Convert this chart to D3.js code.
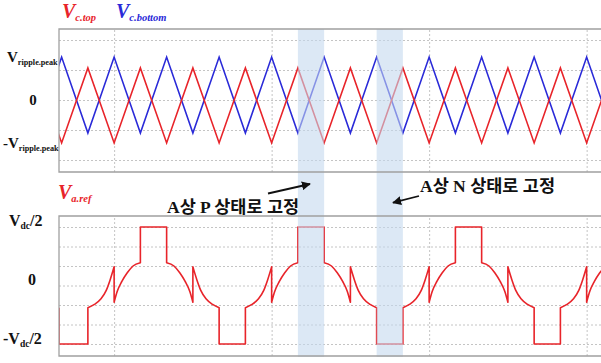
<!DOCTYPE html>
<html><head><meta charset="utf-8">
<script src="https://cdn.jsdelivr.net/npm/d3@7"></script>
<style>body{margin:0;background:#fff}svg{display:block}</style>
</head><body>
<script>
// ---------- data ----------
// time axis in carrier half-periods
const triT = [-1,0,1,2,3,4,5,6,7,8,9,10,11,12,13,14,15,16,17,18,19,20,21];
const vcTop = [1.07,-1.43,1.07,-1.43,1.07,-1.43,1.07,-1.43,1.07,-1.43,1.07,-1.43,1.07,-1.43,1.07,-1.43,1.07,-1.43,1.07,-1.43,1.07,-1.43,1.07];
const vcBottom = [-1.1,1.43,-1.1,1.43,-1.1,1.43,-1.1,1.43,-1.1,1.43,-1.1,1.43,-1.1,1.43,-1.1,1.43,-1.1,1.43,-1.1,1.43,-1.1,1.43,-1.1];

const vrefT = [-0.1,-0.1,1,1,1.25,1.5,1.7,1.85,2,2,2.12,2.3,2.5,2.72,3,3,4,4,4.28,4.5,4.7,4.88,5,5,5.15,5.3,5.5,5.75,6,
  6,7,7,7.25,7.5,7.7,7.85,8,8,8.12,8.3,8.5,8.72,9,9,10,10,10.28,10.5,10.7,10.88,11,11,11.15,11.3,11.5,11.75,12,
  12,13,13,13.25,13.5,13.7,13.85,14,14,14.12,14.3,14.5,14.72,15,15,16,16,16.28,16.5,16.7,16.88,17,17,17.15,17.3,17.5,17.75,18,
  18,19,19,19.25,19.5,19.7,19.85,20,20,20.12,20.3,20.5,20.72];
const vrefV = [-1.14,-3,-3,-1.14,-0.97,-0.68,-0.25,0.3,0.96,-0.86,-0.3,0.22,0.65,1.0,1.17,3,3,1.17,1.0,0.65,0.22,-0.3,-0.86,0.96,0.3,-0.25,-0.68,-0.97,-1.14,
  -3,-3,-1.14,-0.97,-0.68,-0.25,0.3,0.96,-0.86,-0.3,0.22,0.65,1.0,1.17,3,3,1.17,1.0,0.65,0.22,-0.3,-0.86,0.96,0.3,-0.25,-0.68,-0.97,-1.14,
  -3,-3,-1.14,-0.97,-0.68,-0.25,0.3,0.96,-0.86,-0.3,0.22,0.65,1.0,1.17,3,3,1.17,1.0,0.65,0.22,-0.3,-0.86,0.96,0.3,-0.25,-0.68,-0.97,-1.14,
  -3,-3,-1.14,-0.97,-0.68,-0.25,0.3,0.96,-0.86,-0.3,0.22,0.65,1.0];

const gridT = [2,8,14,20];
const topGridV = [-2,-1,0,1,2];
const botGridV = [-3,-2,-1,0,1,2,3];
const bandStart = [9,12];
const bandEnd = [10,13];

const topTickV = [1.43,0,-1.43];
const topTickMain = ["V","0","-V"];
const topTickSub = ["ripple.peak","",  "ripple.peak"];
const botTickV = [3,0,-3];
const botTickMain = ["V","0","-V"];
const botTickSub = ["dc","","dc"];
const botTickTail = ["/2","","/2"];

const annoText = ["A상 P 상태로 고정","A상 N 상태로 고정"];

// ---------- layout ----------
const W=601,H=363;
const svg = d3.select("body").append("svg").attr("width",W).attr("height",H);
const x = d3.scaleLinear().domain([-0.1,20.6]).range([59,602.4]);
const yT = d3.scaleLinear().domain([-2.4,2.3667]).range([172,29]);
const yB = d3.scaleLinear().domain([-3.615,3.564]).range([356,216]);
const RED="#e8242a", BLUE="#2a2ad8", GRID="#c4c4c4", BORDER="#a0a0a0";

const defs = svg.append("defs");
defs.append("clipPath").attr("id","cT").append("rect")
  .attr("x",x.range()[0]).attr("y",yT.range()[1]).attr("width",x.range()[1]-x.range()[0]).attr("height",yT.range()[0]-yT.range()[1]);
defs.append("clipPath").attr("id","cB").append("rect")
  .attr("x",x.range()[0]).attr("y",yB.range()[1]).attr("width",x.range()[1]-x.range()[0]).attr("height",yB.range()[0]-yB.range()[1]);
defs.append("marker").attr("id","ah").attr("viewBox","0 0 10 10").attr("refX",9).attr("refY",5)
  .attr("markerWidth",5).attr("markerHeight",5).attr("orient","auto").attr("markerUnits","strokeWidth")
  .append("path").attr("d","M0,0L10,5L0,10z").attr("fill","#111");

function grid(yScale, vals){
  const g = svg.append("g");
  const w = x.range()[1]-x.range()[0];
  const h = yScale.range()[0]-yScale.range()[1];
  g.append("g").attr("transform",`translate(${x.range()[0]},0)`)
    .call(d3.axisLeft(yScale).tickValues(vals).tickSize(-w).tickFormat(""))
    .call(s=>s.select(".domain").remove())
    .call(s=>s.selectAll("line").attr("stroke",GRID).attr("stroke-dasharray","2,2"));
  g.append("g").attr("transform",`translate(0,${yScale.range()[0]})`)
    .call(d3.axisBottom(x).tickValues(gridT).tickSize(-h).tickFormat(""))
    .call(s=>s.select(".domain").remove())
    .call(s=>s.selectAll("line").attr("stroke",GRID).attr("stroke-dasharray","2,2"));
}
grid(yT, topGridV);
grid(yB, botGridV);

// top triangles
const lt = d3.line().x(d=>x(d[0])).y(d=>yT(d[1]));
const gT = svg.append("g").attr("clip-path","url(#cT)");
gT.append("path").datum(triT.map((t,i)=>[t,vcBottom[i]])).attr("d",lt)
  .attr("fill","none").attr("stroke",BLUE).attr("stroke-width",1.6);
gT.append("path").datum(triT.map((t,i)=>[t,vcTop[i]])).attr("d",lt)
  .attr("fill","none").attr("stroke",RED).attr("stroke-width",1.6);

// bottom reference waveform: smooth runs joined by vertical jumps
const pts = vrefT.map((t,i)=>[t,vrefV[i]]);
const runs=[]; let cur=[pts[0]];
for(let i=1;i<pts.length;i++){
  if(pts[i][0]===pts[i-1][0]){ runs.push(cur); cur=[pts[i]]; } else cur.push(pts[i]);
}
runs.push(cur);
const lb = d3.line().x(d=>x(d[0])).y(d=>yB(d[1])).curve(d3.curveMonotoneX);
let dStr = runs.map((r,i)=>{ const s = lb(r); return i===0? s : "L"+s.slice(1); }).join("");
svg.append("g").attr("clip-path","url(#cB)").append("path").attr("d",dStr)
  .attr("fill","none").attr("stroke",RED).attr("stroke-width",1.6).attr("stroke-linejoin","round");

// shaded bands
svg.append("g").selectAll("rect").data(bandStart).join("rect")
  .attr("x",d=>x(d)).attr("width",(d,i)=>x(bandEnd[i])-x(d))
  .attr("y",yT.range()[1]).attr("height",yB.range()[0]-yT.range()[1]+1)
  .attr("fill","rgb(196,216,238)").attr("opacity",0.6);

// panel borders (top & left & bottom)
[[yT],[yB]].forEach(([ys])=>{
  const x0=x.range()[0], x1=x.range()[1], y0=ys.range()[1], y1=ys.range()[0];
  svg.append("path").attr("d",`M${x1},${y0}H${x0}V${y1}H${x1}`)
    .attr("fill","none").attr("stroke",BORDER).attr("stroke-width",1.3);
});

// tick labels
const serif = "'Liberation Serif','Times New Roman',serif";
function lbl(xp, yp, main, sub, tail, fsMain, fsSub, anchor){
  const t = svg.append("text").attr("x",xp).attr("y",yp).attr("font-family",serif)
    .attr("font-weight","bold").attr("fill","#111").attr("text-anchor",anchor||"start");
  t.append("tspan").attr("font-size",fsMain).text(main);
  if(sub) t.append("tspan").attr("font-size",fsSub).attr("dy",3).text(sub);
  if(tail) t.append("tspan").attr("font-size",fsMain).attr("dy",-3).text(tail);
}
topTickV.forEach((v,i)=>{
  if(topTickMain[i]==="0") lbl(33, yT(v)+5, "0", "", "", 15, 8, "middle");
  else lbl(topTickMain[i]==="V"?7:3, yT(v)+5, topTickMain[i], topTickSub[i], "", 15, 8.2);
});
botTickV.forEach((v,i)=>{
  if(botTickMain[i]==="0") lbl(32, yB(v)-1, "0", "", "", 16, 9, "middle");
  else lbl(botTickMain[i]==="V"?9:3, yB(v)+(v>0?-1:0), botTickMain[i], botTickSub[i], botTickTail[i], 16, 9.5);
});

// legends / panel titles
function title(xp, yp, sub, col){
  const t = svg.append("text").attr("x",xp).attr("y",yp).attr("font-family",serif)
    .attr("font-weight","bold").attr("font-style","italic").attr("fill",col);
  t.append("tspan").attr("font-size",20).text("V");
  t.append("tspan").attr("font-size",10.5).attr("dy",3).text(sub);
}
title(62, 18, "c.top", RED);
title(116, 18, "c.bottom", BLUE);
title(58, 199, "a.ref", RED);

// annotations
const kfont = "'Liberation Serif','Noto Sans CJK KR',serif";
svg.append("text").attr("x",167).attr("y",212.5).attr("font-family",kfont)
  .attr("font-weight","bold").attr("font-size",17.5).attr("fill","#111").text(annoText[0]);
svg.append("text").attr("x",420).attr("y",191.5).attr("font-family",kfont)
  .attr("font-weight","bold").attr("font-size",17.5).attr("fill","#111").text(annoText[1]);
svg.append("line").attr("x1",268).attr("y1",193.5).attr("x2",310).attr("y2",184)
  .attr("stroke","#111").attr("stroke-width",1.8).attr("marker-end","url(#ah)");
svg.append("line").attr("x1",419).attr("y1",196).attr("x2",393).attr("y2",202.7)
  .attr("stroke","#111").attr("stroke-width",1.8).attr("marker-end","url(#ah)");
</script>
</body></html>
